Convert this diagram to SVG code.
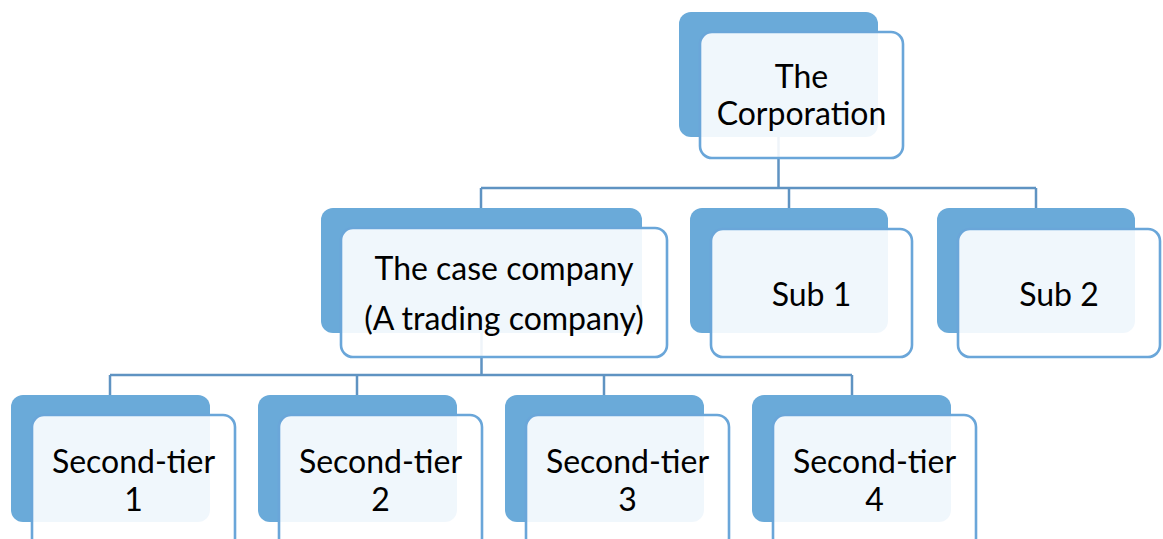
<svg xmlns="http://www.w3.org/2000/svg" width="1163" height="539" viewBox="0 0 1163 539">
<style>
.back{fill:#6AAAD9;}
.front{fill:#ffffff;fill-opacity:0.9;stroke:#6AA6D9;stroke-width:2.6;}
.conn{fill:none;stroke:#5F93C2;stroke-width:2.5;}
text{font-family:Lato,"Open Sans","Liberation Sans",sans-serif;font-size:32px;fill:#000;text-anchor:middle;}
</style>
<rect width="1163" height="539" fill="#ffffff"/>
<g id="connectors">
<path class="conn" d="M778.5,137 V188 M481,188 H1036 M481,188 V208 M789,188 V208 M1036,188 V208"/>
<path class="conn" d="M481.5,333 V375 M110,375 H852 M110,375 V395 M357,375 V395 M604,375 V395 M852,375 V395"/>
</g>
<g id="corporation">
<rect class="back" x="679" y="12" width="199" height="125" rx="12"/>
<rect class="front" x="700" y="32" width="203" height="126" rx="12"/>
<text x="801.5" y="88">The</text>
<text x="801.5" y="125">Corporation</text>
</g>
<g id="case-company">
<rect class="back" x="321" y="208" width="321" height="125" rx="12"/>
<rect class="front" x="341" y="228" width="326" height="129" rx="12"/>
<text x="504" y="280">The case company</text>
<text x="504" y="330">(A trading company)</text>
</g>
<g id="sub1">
<rect class="back" x="690" y="208" width="198" height="125" rx="12"/>
<rect class="front" x="711" y="229" width="201" height="128" rx="12"/>
<text x="811.5" y="306">Sub 1</text>
</g>
<g id="sub2">
<rect class="back" x="937" y="208" width="198" height="125" rx="12"/>
<rect class="front" x="958" y="229" width="202" height="128" rx="12"/>
<text x="1059" y="306">Sub 2</text>
</g>
<g id="tier1">
<rect class="back" x="11" y="395" width="199" height="127" rx="12"/>
<rect class="front" x="32" y="415" width="203" height="135" rx="12"/>
<text x="133.5" y="473">Second-tier</text>
<text x="133.5" y="511">1</text>
</g>
<g id="tier2">
<rect class="back" x="258" y="395" width="199" height="127" rx="12"/>
<rect class="front" x="279" y="415" width="203" height="135" rx="12"/>
<text x="380.5" y="473">Second-tier</text>
<text x="380.5" y="511">2</text>
</g>
<g id="tier3">
<rect class="back" x="505" y="395" width="199" height="127" rx="12"/>
<rect class="front" x="526" y="415" width="203" height="135" rx="12"/>
<text x="627.5" y="473">Second-tier</text>
<text x="627.5" y="511">3</text>
</g>
<g id="tier4">
<rect class="back" x="752" y="395" width="199" height="127" rx="12"/>
<rect class="front" x="773" y="415" width="203" height="135" rx="12"/>
<text x="874.5" y="473">Second-tier</text>
<text x="874.5" y="511">4</text>
</g>
</svg>
